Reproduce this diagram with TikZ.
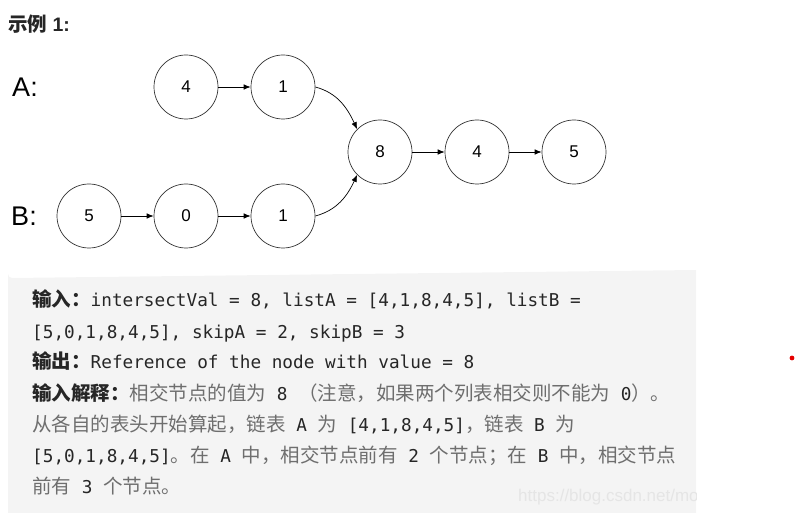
\documentclass[tikz,border=0pt]{standalone}
\usepackage{fontspec}
\setmainfont{Liberation Sans}
\setmonofont{DejaVu Sans Mono}
\newfontfamily\cjk{Noto Sans CJK SC}
\usepackage{tikz}
\usetikzlibrary{arrows.meta}
\definecolor{boxgray}{HTML}{F4F4F4}
\definecolor{zhgray}{HTML}{6E6E6E}
\definecolor{codeblack}{HTML}{262626}
\definecolor{ringgray}{HTML}{333333}
\newcommand{\zh}[1]{{\cjk\fontsize{19.5}{20}\selectfont\color{zhgray}#1}}
\newcommand{\zhb}[1]{{\cjk\bfseries\fontsize{19.5}{20}\selectfont\color{codeblack}#1}}
\tikzset{
  num/.style={circle,draw=ringgray,line width=0.7pt,minimum size=64pt,inner sep=0pt,font=\fontsize{17}{20}\selectfont},
  link/.style={-{Latex[length=7pt,width=5.5pt]},line width=0.7pt},
  listname/.style={font=\fontsize{27}{30}\selectfont},
  txt/.style={anchor=base west,inner sep=0pt,text=codeblack,font=\ttfamily\fontsize{17.7}{20}\selectfont}
}
\begin{document}
\begin{tikzpicture}[x=1pt,y=-1pt]
\useasboundingbox (0,0) rectangle (796,513);
\node[anchor=west,inner sep=0pt,font=\bfseries\fontsize{19.5}{22}\selectfont,text=codeblack] (title) at (8,24) {{\cjk 示例} 1:};
\node[listname] (la) at (25,87) {A:};
\node[listname] (lb) at (24,216) {B:};
\node[num] (a4) at (186,87) {4};
\node[num] (a1) at (283,87) {1};
\node[num] (b5) at (89,216) {5};
\node[num] (b0) at (186,216) {0};
\node[num] (b1) at (283,216) {1};
\node[num] (c8) at (380,152) {8};
\node[num] (c4) at (477,152) {4};
\node[num] (c5) at (574,152) {5};
\draw[link] (a4) -- (a1);
\draw[link] (b5) -- (b0);
\draw[link] (b0) -- (b1);
\draw[link] (c8) -- (c4);
\draw[link] (c4) -- (c5);
\draw[link] (a1.east) to[out=-15,in=115] (c8.135);
\draw[link] (b1.east) to[out=15,in=-115] (c8.225);
\fill[boxgray] (8,513) -- (8,274) arc[start angle=180,end angle=90,radius=4] -- (696,270) -- (696,513) -- cycle;
\begin{scope}
\clip (8,270) rectangle (696,513);
\node[anchor=base west,inner sep=0pt,text=white!90!black,font=\fontsize{17}{20}\selectfont] (mark) at (518,501) {https://blog.csdn.net/mou};
\end{scope}
\node[txt] (l1) at (32,307) {\zhb{输入：}intersectVal = 8, listA = [4,1,8,4,5], listB =};
\node[txt] (l2) at (32,338) {[5,0,1,8,4,5], skipA = 2, skipB = 3};
\node[txt] (l3) at (32,369) {\zhb{输出：}Reference of the node with value = 8};
\node[txt] (l4) at (32,400) {\zhb{输入解释：}\zh{相交节点的值为} 8 \zh{（注意，如果两个列表相交则不能为} 0\zh{）。}};
\node[txt] (l5) at (32,431) {\zh{从各自的表头开始算起，链表} A \zh{为} [4,1,8,4,5]\zh{，链表} B \zh{为}};
\node[txt] (l6) at (32,462) {[5,0,1,8,4,5]\zh{。在} A \zh{中，相交节点前有} 2 \zh{个节点；在} B \zh{中，相交节点}};
\node[txt] (l7) at (32,493) {\zh{前有} 3 \zh{个节点。}};
\fill[red!90!black] (792,358) circle[radius=2.4];
\end{tikzpicture}
\end{document}
